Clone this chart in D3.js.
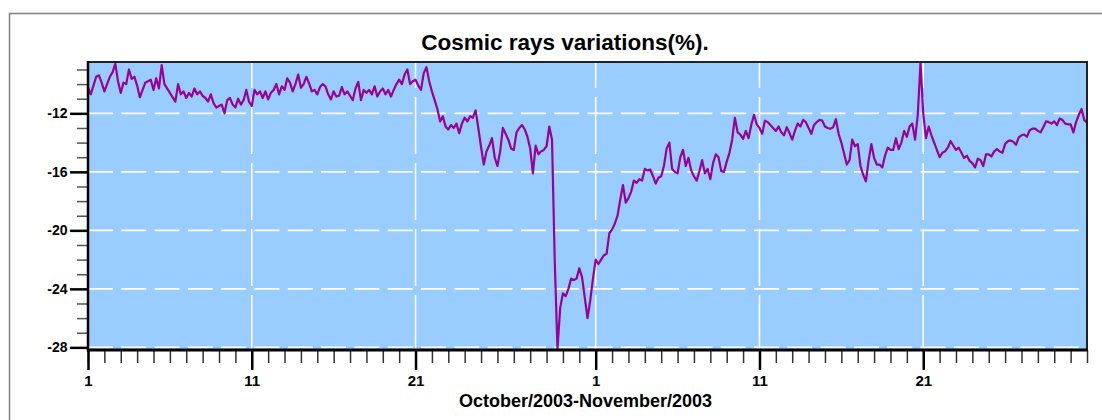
<!DOCTYPE html>
<html>
<head>
<meta charset="utf-8">
<script src="https://cdn.jsdelivr.net/npm/d3@7"></script>
<style>
body { margin: 0; background: #fff; }
text { font-family: Arial, "Liberation Sans", sans-serif; font-weight: bold; fill: #000; }
</style>
</head>
<body>
<div id="chart"></div>
<script>
// cosmic ray variation (%), read every 4 hours, one array per ten days
// null = no data (the line just jumps over it)
var oct01 = [-10.2,-10.7,-10.1,-9.5,-9.4,-9.9,-10.5,-10.0,-9.5,-9.2,
  -8.6,-9.8,-10.6,-9.9,-10.0,-9.0,-9.65,-9.5,-10.1,-10.9,
  -10.4,-9.9,-9.8,-9.7,-10.4,-9.6,-10.3,-8.7,-10.0,null,
  null,null,-11.2,-10.0,-10.7,-10.5,-10.95,-10.6,-10.85,-10.3,
  -10.7,-10.5,-10.8,-10.95,-11.2,-10.7,-11.3,-11.6,-11.5,-11.4,
  -12.0,-11.1,-10.95,-11.4,-11.6,-11.0,-11.4,-11.1,-10.4,-11.2];
var oct11 = [-11.5,-10.4,-10.7,-10.5,-10.95,-10.5,-11.05,-10.6,-10.4,-10.0,
  -10.7,-10.15,-10.4,-9.6,-9.9,-10.5,-10.0,-9.35,-10.25,-10.0,
  -9.5,-9.95,-10.5,-10.4,-10.7,-10.2,-10.0,-10.15,-10.7,-11.05,
  -10.5,-10.85,-10.8,-10.2,-10.7,-10.5,-10.8,-11.1,-10.3,-9.85,
  -11.1,-10.4,-10.6,-10.4,-10.7,-10.15,-10.85,-10.5,-10.3,-10.7,
  -10.4,-10.85,-10.4,-10.0,-9.7,-10.0,-9.35,-9.0,-10.0,-9.8];
var oct21 = [-9.7,-10.1,-10.4,-9.25,-8.85,-9.8,-10.5,-11.1,-11.7,-12.55,
  -12.2,-12.9,-13.1,-12.8,-13.0,-12.7,-13.35,-12.7,-12.3,-12.55,
  -12.2,-12.3,-11.8,-13.0,-14.3,-15.5,-14.6,-14.2,-13.7,-15.0,
  -15.6,-14.6,-13.0,-13.4,-13.8,-14.4,-14.5,-13.3,-13.0,-12.8,
  -13.1,-13.6,-14.4,-16.1,-14.2,-14.8,-14.6,-14.5,-14.25,-12.9,
  -13.8,-22.1,-28.1,-25.3,-24.3,-24.5,-24.0,-23.3,-23.4,-23.3,
  -22.6,-23.2,-24.6,-26.0,-24.8,-23.3];
var nov01 = [-22.0,-22.3,-22.0,-21.7,-21.6,-20.2,-19.95,-19.55,-19.0,-17.9,
  -16.9,-18.1,-17.8,-17.35,-16.6,-16.75,-16.5,-16.6,-15.8,-15.9,
  -15.85,-16.3,-16.8,-16.4,-16.3,-15.6,-14.4,-14.0,-15.8,-16.0,
  -16.1,-15.0,-14.5,-15.6,-15.05,-15.9,-16.3,-16.6,-15.95,-15.2,
  -16.1,-15.8,-16.5,-15.4,-14.8,-15.0,-15.95,-16.0,-15.3,-14.7,
  -13.8,-12.3,-13.3,-13.45,-13.75,-13.2,-13.7,-12.8,-12.1,-12.75];
var nov11 = [-13.0,-13.4,-12.5,-12.6,-12.8,-13.0,-13.2,-12.9,-13.3,-13.5,
  -12.95,-13.35,-13.8,-13.2,-12.7,-12.9,-12.45,-12.6,-13.0,-13.4,
  -12.8,-12.6,-12.45,-12.5,-12.9,-13.0,-13.05,-12.95,-12.4,-13.4,
  -14.0,-14.75,-15.5,-15.2,-13.8,-14.25,-14.1,-15.6,-16.2,-16.65,
  -15.2,-14.1,-15.05,-15.5,-15.5,-15.7,-14.9,-14.35,-14.5,-14.5,
  -13.7,-14.45,-14.0,-13.2,-13.6,-12.9,-12.7,-13.8,-12.1,-8.55];
var nov21 = [-12.0,-13.7,-12.9,-13.5,-14.0,-14.5,-15.0,-14.7,-14.6,-14.35,
  -13.9,-14.2,-14.5,-14.35,-14.7,-15.05,-14.9,-15.25,-15.4,-15.7,
  -15.1,-15.2,-15.6,-14.8,-14.8,-14.95,-14.6,-14.45,-14.6,-14.7,
  -14.1,-13.9,-13.85,-13.95,-14.15,-13.65,-13.5,-13.45,-13.6,-13.15,
  -13.05,-13.05,-13.2,-13.3,-12.95,-12.55,-12.6,-12.7,-12.55,-12.8,
  -12.35,-12.45,-12.7,-12.75,-12.75,-13.3,-12.6,-12.1,-11.7,-12.45,
  -12.65];

var blockStarts = ["2003-10-01", "2003-10-11", "2003-10-21", "2003-11-01", "2003-11-11", "2003-11-21"];
var blockValues = [oct01, oct11, oct21, nov01, nov11, nov21];

var dateRange = ["2003-10-01", "2003-12-01"];
var xMajorTicks = ["2003-10-01", "2003-10-11", "2003-10-21", "2003-11-01", "2003-11-11", "2003-11-21"];
var yMajorTicks = [-28, -24, -20, -16, -12];
var yRange = [-28.18, -8.49];

var title = "Cosmic rays variations(%).";
var xTitle = "October/2003-November/2003";

// flatten blocks into {date, value}
var parse = d3.utcParse("%Y-%m-%d");
var data = [];
blockStarts.forEach(function(s, b) {
    var t0 = parse(s);
    blockValues[b].forEach(function(v, i) {
        if (v !== null) data.push({date: d3.utcHour.offset(t0, 4 * i), value: v});
    });
});

var W = 1102, H = 420;
var plot = {left: 88, top: 62, right: 1087, bottom: 350};

var svg = d3.select("#chart")
  .append("svg")
    .attr("width", W)
    .attr("height", H);

var x = d3.scaleUtc()
    .domain(dateRange.map(parse))
    .range([plot.left, plot.right]);

var y = d3.scaleLinear()
    .domain(yRange)
    .range([plot.bottom, plot.top]);

// outer frame (runs off the right / bottom edge)
svg.append("rect")
    .attr("x", 9.5).attr("y", 13.5)
    .attr("width", 1200).attr("height", 500)
    .attr("fill", "none")
    .attr("stroke", "#808080")
    .attr("stroke-width", 1.5);

// plot background
svg.append("rect")
    .attr("x", plot.left).attr("y", plot.top)
    .attr("width", plot.right - plot.left)
    .attr("height", plot.bottom - plot.top)
    .attr("fill", "#99ccff");

// grid
svg.append("g")
  .selectAll("line")
  .data(yMajorTicks)
  .enter()
  .append("line")
    .attr("x1", plot.left).attr("x2", plot.right)
    .attr("y1", function(d) { return y(d); })
    .attr("y2", function(d) { return y(d); })
    .attr("stroke", "#fff")
    .attr("stroke-width", 1.6)
    .attr("stroke-dasharray", "25,8.3");

svg.append("g")
  .selectAll("line")
  .data(xMajorTicks.slice(1))
  .enter()
  .append("line")
    .attr("x1", function(d) { return x(parse(d)); })
    .attr("x2", function(d) { return x(parse(d)); })
    .attr("y1", plot.top).attr("y2", plot.bottom)
    .attr("stroke", "#fff")
    .attr("stroke-width", 1.6)
    .attr("stroke-dasharray", "57,9")
    .attr("stroke-dashoffset", 31);

// the series
var line = d3.line()
    .x(function(d) { return x(d.date); })
    .y(function(d) { return y(d.value); });

svg.append("path")
    .datum(data)
    .attr("d", line)
    .attr("fill", "none")
    .attr("stroke", "#990099")
    .attr("stroke-width", 2.2)
    .attr("stroke-linejoin", "round");

// top and right plot border
svg.append("path")
    .attr("d", "M" + plot.left + "," + plot.top + "H" + plot.right + "V" + plot.bottom)
    .attr("fill", "none")
    .attr("stroke", "#222")
    .attr("stroke-width", 2);

// y axis: minor then major
var yMinor = d3.range(-28, -8, 1).filter(function(d) { return yMajorTicks.indexOf(d) < 0; });

svg.append("g")
    .attr("transform", "translate(" + plot.left + ",0)")
    .call(d3.axisLeft(y).tickValues(yMinor).tickSize(11).tickFormat(""))
    .call(function(g) {
        g.select(".domain").remove();
        g.selectAll("line").attr("stroke", "#555").attr("stroke-width", 1.5);
    });

svg.append("g")
    .attr("transform", "translate(" + plot.left + ",0)")
    .call(d3.axisLeft(y).tickValues(yMajorTicks).tickSize(18).tickPadding(2.5).tickFormat(function(d) { return String(d); }))
    .call(function(g) {
        g.attr("font-size", null).attr("font-family", null);
        g.select(".domain").remove();
        g.selectAll("line").attr("stroke", "#000").attr("stroke-width", 2.5);
        g.selectAll("text").style("font-size", "14px").attr("fill", "#000");
    });

svg.append("line")
    .attr("x1", plot.left).attr("x2", plot.left)
    .attr("y1", plot.top - 1).attr("y2", plot.bottom + 1.5)
    .attr("stroke", "#000").attr("stroke-width", 2.5);

// x axis: daily minor ticks, labelled majors
svg.append("g")
    .attr("transform", "translate(0," + plot.bottom + ")")
    .call(d3.axisBottom(x).ticks(d3.utcDay.every(1)).tickSize(13).tickFormat(""))
    .call(function(g) {
        g.select(".domain").remove();
        g.selectAll("line").attr("stroke", "#333").attr("stroke-width", 1.5);
    });

svg.append("g")
    .attr("transform", "translate(0," + plot.bottom + ")")
    .call(d3.axisBottom(x).tickValues(xMajorTicks.map(parse)).tickSize(20).tickPadding(5).tickFormat(d3.utcFormat("%-d")))
    .call(function(g) {
        g.attr("font-size", null).attr("font-family", null);
        g.select(".domain").remove();
        g.selectAll("line").attr("stroke", "#000").attr("stroke-width", 2.5);
        g.selectAll("text").style("font-size", "15px").attr("fill", "#000");
    });

svg.append("line")
    .attr("x1", plot.left - 1).attr("x2", plot.right + 1)
    .attr("y1", plot.bottom).attr("y2", plot.bottom)
    .attr("stroke", "#000").attr("stroke-width", 3);

// titles
svg.append("text")
    .attr("x", 565).attr("y", 50)
    .attr("text-anchor", "middle")
    .attr("font-size", 22.5)
    .text(title);

svg.append("text")
    .attr("x", 585.5).attr("y", 407)
    .attr("text-anchor", "middle")
    .attr("font-size", 18)
    .text(xTitle);
</script>
</body>
</html>
